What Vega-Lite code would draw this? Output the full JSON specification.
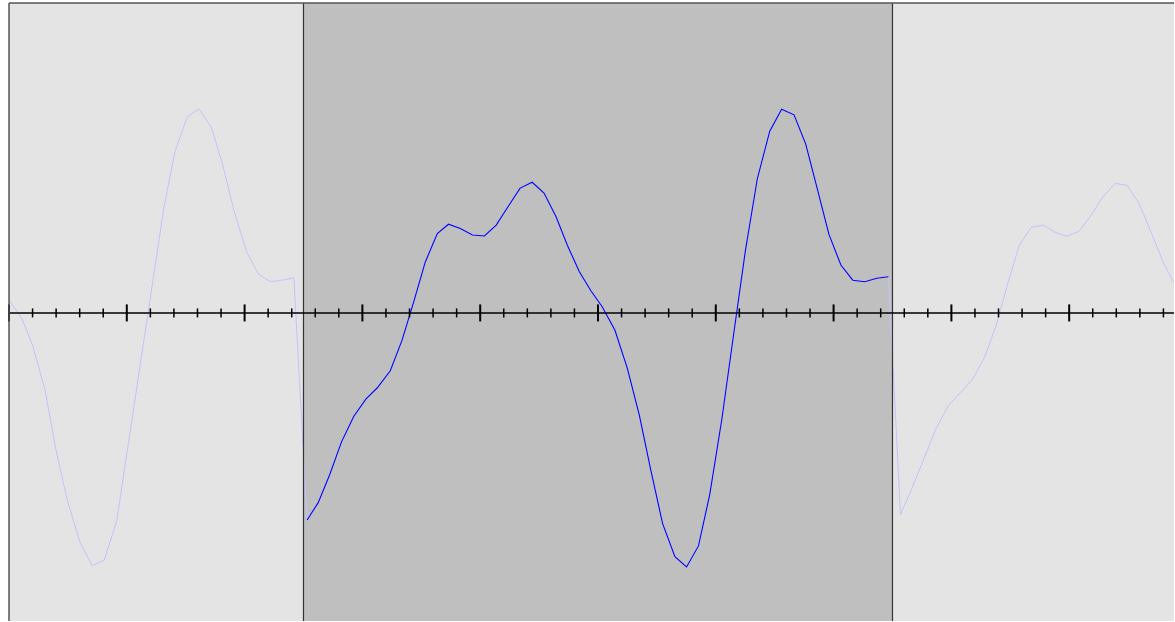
{
  "$schema": "https://vega.github.io/schema/vega-lite/v6.json",
  "width": 1175,
  "height": 622,
  "autosize": {"type": "fit", "contains": "padding"},
  "padding": {"left": 8, "top": 2, "right": 0, "bottom": 0},
  "background": "white",
  "config": {"view": {"stroke": null}},
  "datasets": {
    "regions": [
      {"region": "left", "x0": 0, "x1": 2.5},
      {"region": "center", "x0": 2.5, "x1": 7.5},
      {"region": "right", "x0": 7.5, "x1": 10}
    ],
    "wave": [
      {"part": "left", "x": 0.0, "y": 0.042},
      {"part": "left", "x": 0.108, "y": -0.017},
      {"part": "left", "x": 0.201, "y": -0.105},
      {"part": "left", "x": 0.305, "y": -0.248},
      {"part": "left", "x": 0.398, "y": -0.442},
      {"part": "left", "x": 0.497, "y": -0.609},
      {"part": "left", "x": 0.604, "y": -0.743},
      {"part": "left", "x": 0.706, "y": -0.818},
      {"part": "left", "x": 0.808, "y": -0.8},
      {"part": "left", "x": 0.913, "y": -0.676},
      {"part": "left", "x": 1.014, "y": -0.422},
      {"part": "left", "x": 1.114, "y": -0.167},
      {"part": "left", "x": 1.215, "y": 0.088},
      {"part": "left", "x": 1.316, "y": 0.343},
      {"part": "left", "x": 1.409, "y": 0.523},
      {"part": "left", "x": 1.514, "y": 0.635},
      {"part": "left", "x": 1.613, "y": 0.66},
      {"part": "left", "x": 1.718, "y": 0.601},
      {"part": "left", "x": 1.811, "y": 0.483},
      {"part": "left", "x": 1.909, "y": 0.332},
      {"part": "left", "x": 2.017, "y": 0.198},
      {"part": "left", "x": 2.119, "y": 0.125},
      {"part": "left", "x": 2.22, "y": 0.101},
      {"part": "left", "x": 2.322, "y": 0.106},
      {"part": "left", "x": 2.418, "y": 0.114},
      {"part": "center", "x": 2.531, "y": -0.670},
      {"part": "center", "x": 2.625, "y": -0.614},
      {"part": "center", "x": 2.723, "y": -0.523},
      {"part": "center", "x": 2.822, "y": -0.418},
      {"part": "center", "x": 2.926, "y": -0.335},
      {"part": "center", "x": 3.031, "y": -0.278},
      {"part": "center", "x": 3.125, "y": -0.243},
      {"part": "center", "x": 3.237, "y": -0.187},
      {"part": "center", "x": 3.336, "y": -0.089},
      {"part": "center", "x": 3.435, "y": 0.035},
      {"part": "center", "x": 3.534, "y": 0.165},
      {"part": "center", "x": 3.636, "y": 0.257},
      {"part": "center", "x": 3.731, "y": 0.287},
      {"part": "center", "x": 3.831, "y": 0.273},
      {"part": "center", "x": 3.935, "y": 0.252},
      {"part": "center", "x": 4.036, "y": 0.249},
      {"part": "center", "x": 4.136, "y": 0.284},
      {"part": "center", "x": 4.240, "y": 0.346},
      {"part": "center", "x": 4.339, "y": 0.404},
      {"part": "center", "x": 4.441, "y": 0.423},
      {"part": "center", "x": 4.542, "y": 0.388},
      {"part": "center", "x": 4.644, "y": 0.311},
      {"part": "center", "x": 4.740, "y": 0.219},
      {"part": "center", "x": 4.842, "y": 0.133},
      {"part": "center", "x": 4.941, "y": 0.071},
      {"part": "center", "x": 5.036, "y": 0.020},
      {"part": "center", "x": 5.144, "y": -0.056},
      {"part": "center", "x": 5.248, "y": -0.178},
      {"part": "center", "x": 5.350, "y": -0.329},
      {"part": "center", "x": 5.447, "y": -0.506},
      {"part": "center", "x": 5.548, "y": -0.681},
      {"part": "center", "x": 5.653, "y": -0.789},
      {"part": "center", "x": 5.752, "y": -0.822},
      {"part": "center", "x": 5.853, "y": -0.754},
      {"part": "center", "x": 5.949, "y": -0.587},
      {"part": "center", "x": 6.051, "y": -0.345},
      {"part": "center", "x": 6.153, "y": -0.065},
      {"part": "center", "x": 6.252, "y": 0.203},
      {"part": "center", "x": 6.353, "y": 0.435},
      {"part": "center", "x": 6.458, "y": 0.588},
      {"part": "center", "x": 6.559, "y": 0.659},
      {"part": "center", "x": 6.664, "y": 0.641},
      {"part": "center", "x": 6.763, "y": 0.547},
      {"part": "center", "x": 6.858, "y": 0.407},
      {"part": "center", "x": 6.960, "y": 0.255},
      {"part": "center", "x": 7.062, "y": 0.155},
      {"part": "center", "x": 7.163, "y": 0.106},
      {"part": "center", "x": 7.265, "y": 0.101},
      {"part": "center", "x": 7.367, "y": 0.112},
      {"part": "center", "x": 7.466, "y": 0.117},
      {"part": "right", "x": 7.568, "y": -0.652},
      {"part": "right", "x": 7.661, "y": -0.571},
      {"part": "right", "x": 7.771, "y": -0.468},
      {"part": "right", "x": 7.873, "y": -0.371},
      {"part": "right", "x": 7.975, "y": -0.300},
      {"part": "right", "x": 8.076, "y": -0.258},
      {"part": "right", "x": 8.178, "y": -0.216},
      {"part": "right", "x": 8.280, "y": -0.145},
      {"part": "right", "x": 8.381, "y": -0.039},
      {"part": "right", "x": 8.475, "y": 0.090},
      {"part": "right", "x": 8.576, "y": 0.219},
      {"part": "right", "x": 8.678, "y": 0.277},
      {"part": "right", "x": 8.780, "y": 0.284},
      {"part": "right", "x": 8.881, "y": 0.261},
      {"part": "right", "x": 8.983, "y": 0.248},
      {"part": "right", "x": 9.085, "y": 0.265},
      {"part": "right", "x": 9.186, "y": 0.316},
      {"part": "right", "x": 9.288, "y": 0.377},
      {"part": "right", "x": 9.390, "y": 0.419},
      {"part": "right", "x": 9.492, "y": 0.413},
      {"part": "right", "x": 9.593, "y": 0.355},
      {"part": "right", "x": 9.695, "y": 0.261},
      {"part": "right", "x": 9.797, "y": 0.165},
      {"part": "right", "x": 9.898, "y": 0.090}
    ],
    "ticks": [
      {"t": 0, "kind": "major"}, {"t": 0.2, "kind": "minor"}, {"t": 0.4, "kind": "minor"}, {"t": 0.6, "kind": "minor"}, {"t": 0.8, "kind": "minor"},
      {"t": 1, "kind": "major"}, {"t": 1.2, "kind": "minor"}, {"t": 1.4, "kind": "minor"}, {"t": 1.6, "kind": "minor"}, {"t": 1.8, "kind": "minor"},
      {"t": 2, "kind": "major"}, {"t": 2.2, "kind": "minor"}, {"t": 2.4, "kind": "minor"}, {"t": 2.6, "kind": "minor"}, {"t": 2.8, "kind": "minor"},
      {"t": 3, "kind": "major"}, {"t": 3.2, "kind": "minor"}, {"t": 3.4, "kind": "minor"}, {"t": 3.6, "kind": "minor"}, {"t": 3.8, "kind": "minor"},
      {"t": 4, "kind": "major"}, {"t": 4.2, "kind": "minor"}, {"t": 4.4, "kind": "minor"}, {"t": 4.6, "kind": "minor"}, {"t": 4.8, "kind": "minor"},
      {"t": 5, "kind": "major"}, {"t": 5.2, "kind": "minor"}, {"t": 5.4, "kind": "minor"}, {"t": 5.6, "kind": "minor"}, {"t": 5.8, "kind": "minor"},
      {"t": 6, "kind": "major"}, {"t": 6.2, "kind": "minor"}, {"t": 6.4, "kind": "minor"}, {"t": 6.6, "kind": "minor"}, {"t": 6.8, "kind": "minor"},
      {"t": 7, "kind": "major"}, {"t": 7.2, "kind": "minor"}, {"t": 7.4, "kind": "minor"}, {"t": 7.6, "kind": "minor"}, {"t": 7.8, "kind": "minor"},
      {"t": 8, "kind": "major"}, {"t": 8.2, "kind": "minor"}, {"t": 8.4, "kind": "minor"}, {"t": 8.6, "kind": "minor"}, {"t": 8.8, "kind": "minor"},
      {"t": 9, "kind": "major"}, {"t": 9.2, "kind": "minor"}, {"t": 9.4, "kind": "minor"}, {"t": 9.6, "kind": "minor"}, {"t": 9.8, "kind": "minor"}
    ]
  },
  "layer": [
    {
      "data": {"name": "regions"},
      "mark": {"type": "rect", "clip": true},
      "encoding": {
        "x": {"field": "x0", "type": "quantitative", "scale": {"domain": [0, 9.8898], "nice": false, "zero": false}, "axis": null},
        "x2": {"field": "x1"},
        "y": {"datum": 1.003, "type": "quantitative", "scale": {"domain": [-0.997, 1.003], "nice": false, "zero": false}, "axis": null},
        "y2": {"datum": -0.997},
        "color": {"field": "region", "type": "nominal", "scale": {"domain": ["left", "center", "right"], "range": ["#e4e4e4", "#bfbfbf", "#e4e4e4"]}, "legend": null}
      }
    },
    {
      "data": {"name": "wave"},
      "mark": {"type": "line", "clip": true, "color": "#c3c3fa", "strokeWidth": 1},
      "encoding": {
        "x": {"field": "x", "type": "quantitative", "scale": {"domain": [0, 9.8898], "nice": false, "zero": false}, "axis": null},
        "y": {"field": "y", "type": "quantitative", "scale": {"domain": [-0.997, 1.003], "nice": false, "zero": false}, "axis": null}
      }
    },
    {
      "data": {"name": "wave"},
      "transform": [{"filter": "datum.part === 'center'"}],
      "mark": {"type": "line", "clip": true, "color": "#0000ff", "strokeWidth": 1.1},
      "encoding": {
        "x": {"field": "x", "type": "quantitative", "scale": {"domain": [0, 9.8898], "nice": false, "zero": false}, "axis": null},
        "y": {"field": "y", "type": "quantitative", "scale": {"domain": [-0.997, 1.003], "nice": false, "zero": false}, "axis": null}
      }
    },
    {
      "data": {"values": [{"b": 2.5}, {"b": 7.5}]},
      "mark": {"type": "rule", "color": "#333333", "strokeWidth": 1.2},
      "encoding": {
        "x": {"field": "b", "type": "quantitative", "scale": {"domain": [0, 9.8898], "nice": false, "zero": false}, "axis": null}
      }
    },
    {
      "data": {"values": [{"z": 0}]},
      "mark": {"type": "rule", "color": "#000000", "strokeWidth": 1.5},
      "encoding": {
        "y": {"field": "z", "type": "quantitative", "scale": {"domain": [-0.997, 1.003], "nice": false, "zero": false}, "axis": null}
      }
    },
    {
      "data": {"name": "ticks"},
      "transform": [{"filter": "datum.kind === 'minor'"}],
      "mark": {"type": "tick", "orient": "vertical", "size": 9, "thickness": 1.5, "color": "#000000", "opacity": 1},
      "encoding": {
        "x": {"field": "t", "type": "quantitative", "scale": {"domain": [0, 9.8898], "nice": false, "zero": false}, "axis": null},
        "y": {"datum": 0, "type": "quantitative", "scale": {"domain": [-0.997, 1.003], "nice": false, "zero": false}, "axis": null}
      }
    },
    {
      "data": {"name": "ticks"},
      "transform": [{"filter": "datum.kind === 'major'"}],
      "mark": {"type": "tick", "orient": "vertical", "size": 17, "thickness": 2, "color": "#000000", "opacity": 1},
      "encoding": {
        "x": {"field": "t", "type": "quantitative", "scale": {"domain": [0, 9.8898], "nice": false, "zero": false}, "axis": null},
        "y": {"datum": 0, "type": "quantitative", "scale": {"domain": [-0.997, 1.003], "nice": false, "zero": false}, "axis": null}
      }
    },
    {
      "data": {"values": [{"e": 0}]},
      "mark": {"type": "rule", "color": "#555555", "strokeWidth": 1.5},
      "encoding": {
        "x": {"field": "e", "type": "quantitative", "scale": {"domain": [0, 9.8898], "nice": false, "zero": false}, "axis": null}
      }
    },
    {
      "data": {"values": [{"e": 1.003}]},
      "mark": {"type": "rule", "color": "#555555", "strokeWidth": 1.5},
      "encoding": {
        "y": {"field": "e", "type": "quantitative", "scale": {"domain": [-0.997, 1.003], "nice": false, "zero": false}, "axis": null}
      }
    }
  ]
}
